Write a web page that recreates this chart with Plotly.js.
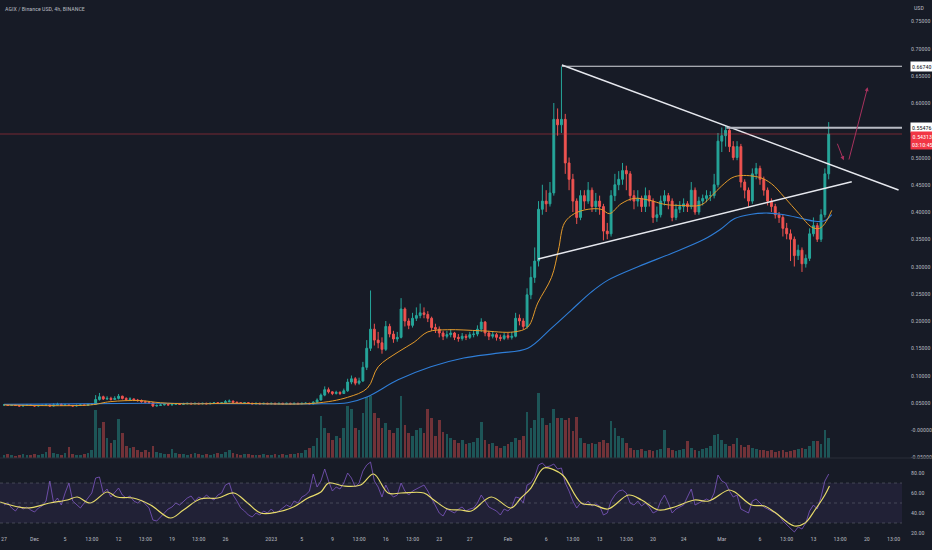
<!DOCTYPE html>
<html><head><meta charset="utf-8">
<script src="https://cdn.plot.ly/plotly-3.0.1.min.js"></script>
<style>html,body{margin:0;padding:0;background:#171b26;}#chart{width:932px;height:550px;}</style>
</head><body><div id="chart"></div>
<script>
// ---- 12h candles, day 0 = 27 Nov 2022 ----
const opens = [
.046,.046,.045,.046,.045,.044,.045,.046,.045,.044,
.045,.045,.046,.044,.046,.047,.045,.046,.045,.044,
.045,.046,.045,.047,.047,.056,.061,.057,.058,.056,
.058,.062,.058,.056,.057,.055,.054,.052,.051,.050,
.044,.045,.046,.047,.046,.047,.048,.047,.048,.049,
.048,.049,.048,.049,.048,.049,.050,.049,.050,.052,
.053,.051,.050,.049,.050,.049,.048,.049,.048,.049,
.048,.049,.048,.049,.048,.049,.048,.049,.048,.049,
.049,.048,.051,.055,.064,.074,.070,.067,.069,.067,
.072,.088,.094,.086,.090,.115,.150,.185,.165,.160,
.148,.190,.176,.167,.170,.222,.200,.192,.205,.210,
.215,.212,.205,.188,.185,.178,.172,.175,.178,.170,
.168,.172,.170,.175,.176,.185,.198,.178,.172,.175,
.170,.168,.173,.170,.172,.205,.200,.190,.248,.280,
.310,.405,.420,.415,.435,.570,.560,.570,.490,.460,
.420,.390,.430,.420,.440,.410,.420,.410,.365,.360,
.430,.450,.460,.476,.470,.430,.420,.425,.410,.430,
.420,.390,.395,.420,.430,.420,.390,.405,.410,.415,
.410,.440,.400,.420,.425,.430,.430,.450,.530,.540,
.550,.520,.500,.520,.455,.440,.420,.470,.480,.460,
.440,.420,.410,.395,.390,.370,.360,.350,.320,.330,
.305,.315,.360,.375,.350,.395,.470];
const highs = [
.047,.047,.047,.047,.046,.046,.047,.047,.046,.046,
.047,.048,.047,.049,.050,.049,.048,.047,.046,.047,
.047,.047,.048,.049,.064,.068,.063,.062,.061,.062,
.066,.063,.060,.060,.058,.057,.056,.054,.053,.051,
.047,.048,.048,.048,.049,.049,.049,.050,.050,.050,
.050,.050,.050,.050,.050,.051,.051,.051,.055,.056,
.054,.052,.051,.051,.051,.050,.050,.050,.050,.050,
.050,.050,.050,.050,.050,.050,.050,.050,.050,.051,
.050,.053,.058,.067,.080,.078,.071,.072,.071,.076,
.094,.100,.097,.096,.125,.165,.256,.195,.180,.170,
.200,.195,.182,.180,.242,.225,.205,.215,.225,.232,
.225,.218,.208,.195,.190,.182,.182,.185,.180,.176,
.178,.176,.180,.182,.192,.205,.200,.182,.180,.178,
.175,.178,.178,.180,.215,.212,.205,.260,.300,.335,
.420,.450,.440,.455,.600,.590,.667,.580,.500,.470,
.425,.440,.440,.455,.445,.435,.430,.415,.380,.440,
.470,.475,.490,.485,.475,.440,.440,.430,.445,.440,
.425,.410,.430,.440,.435,.425,.415,.420,.425,.420,
.455,.445,.428,.432,.440,.438,.470,.545,.555,.558,
.555,.530,.530,.525,.460,.445,.480,.490,.485,.465,
.445,.425,.415,.400,.395,.380,.368,.355,.340,.335,
.322,.370,.390,.380,.405,.480,.565];
const lows = [
.045,.044,.044,.044,.043,.043,.044,.044,.043,.043,
.044,.044,.043,.043,.045,.044,.044,.044,.043,.043,
.044,.044,.044,.046,.046,.054,.055,.055,.054,.055,
.056,.056,.054,.054,.053,.052,.050,.049,.048,.042,
.043,.044,.045,.045,.045,.046,.046,.046,.047,.047,
.047,.047,.047,.047,.047,.048,.048,.048,.049,.051,
.050,.049,.048,.048,.048,.047,.047,.047,.047,.047,
.047,.047,.047,.047,.047,.047,.047,.047,.047,.048,
.047,.047,.050,.054,.062,.067,.064,.065,.064,.066,
.070,.084,.082,.083,.088,.110,.145,.155,.150,.140,
.145,.170,.160,.162,.168,.190,.185,.188,.200,.205,
.205,.198,.182,.178,.170,.165,.168,.170,.165,.162,
.164,.165,.167,.170,.172,.180,.172,.165,.168,.164,
.163,.165,.166,.166,.170,.192,.185,.186,.240,.270,
.300,.395,.400,.410,.430,.540,.545,.470,.440,.400,
.378,.385,.405,.415,.400,.400,.395,.348,.350,.355,
.420,.440,.450,.440,.420,.405,.410,.400,.400,.410,
.380,.382,.390,.412,.405,.383,.385,.398,.400,.400,
.405,.395,.395,.412,.418,.420,.425,.445,.510,.520,
.510,.495,.495,.445,.425,.410,.415,.460,.450,.430,
.412,.400,.388,.380,.355,.350,.310,.300,.312,.290,
.298,.310,.355,.345,.345,.390,.460];
const closes = [
.046,.045,.046,.045,.044,.045,.046,.045,.044,.045,
.045,.046,.044,.046,.047,.045,.046,.045,.044,.045,
.046,.045,.047,.047,.056,.061,.057,.058,.056,.058,
.062,.058,.056,.057,.055,.054,.052,.051,.050,.044,
.045,.046,.047,.046,.047,.048,.047,.048,.049,.048,
.049,.048,.049,.048,.049,.050,.049,.050,.052,.053,
.051,.050,.049,.050,.049,.048,.049,.048,.049,.048,
.049,.048,.049,.048,.049,.048,.049,.048,.049,.049,
.048,.051,.055,.064,.074,.070,.067,.069,.067,.072,
.088,.094,.086,.090,.115,.150,.185,.165,.160,.148,
.190,.176,.167,.170,.222,.200,.192,.205,.210,.215,
.212,.205,.188,.185,.178,.172,.175,.178,.170,.168,
.172,.170,.175,.176,.185,.198,.178,.172,.175,.170,
.168,.173,.170,.172,.205,.200,.190,.248,.280,.310,
.405,.420,.415,.435,.570,.560,.570,.490,.460,.420,
.390,.430,.420,.440,.410,.420,.410,.365,.360,.430,
.450,.460,.476,.470,.430,.420,.425,.410,.430,.420,
.390,.395,.420,.430,.420,.390,.405,.410,.415,.410,
.440,.400,.420,.425,.430,.430,.450,.530,.540,.550,
.520,.500,.520,.455,.440,.420,.470,.480,.460,.440,
.420,.410,.395,.390,.370,.360,.350,.320,.330,.305,
.315,.360,.375,.350,.395,.470,.543];
const volumes = [
3,4,3,2,3,4,3,3,4,3,
4,6,11,5,4,3,5,11,4,3,
3,4,5,8,48,30,36,20,15,18,
39,25,12,10,11,8,6,8,6,12,
6,5,4,4,9,5,4,4,3,4,
5,4,3,4,3,4,5,4,6,8,
5,4,3,4,4,3,3,3,4,3,
3,4,3,4,3,4,4,5,5,8,
10,12,20,42,30,25,18,22,20,30,
52,49,30,28,45,61,62,45,40,30,
35,28,25,30,62,33,25,22,28,30,
25,49,40,22,38,26,24,20,18,15,
18,14,15,16,20,36,18,14,15,12,
10,12,14,16,20,18,22,46,30,38,
65,40,33,35,49,40,40,38,40,27,
41,20,15,14,15,14,16,18,15,37,
30,22,20,15,10,8,8,9,7,8,
7,8,9,28,10,8,7,8,9,17,
10,8,7,9,10,12,23,24,18,14,
12,14,20,13,11,13,10,9,8,8,
7,8,6,7,8,6,7,8,9,10,
9,12,17,17,14,28,20];
const rsi = [
48,50,45,42,47,44,46,43,41,45,
47,52,72,50,55,48,60,70,52,48,
45,50,55,60,75,76,60,64,56,60,
65,58,55,57,52,50,53,49,45,33,
32,36,40,44,46,50,48,52,55,57,
52,56,54,58,55,53,58,60,68,70,
58,52,45,42,38,36,40,38,42,40,
44,40,42,45,48,46,52,50,56,58,
62,79,66,72,84,72,62,66,64,70,
80,75,66,70,82,88,91,72,66,56,
68,60,56,58,70,62,58,62,64,66,
68,62,55,48,40,37,44,42,40,44,
46,42,44,45,50,58,52,46,44,42,
38,44,42,46,56,55,50,68,70,76,
88,90,86,87,89,84,85,70,62,52,
45,50,48,52,47,49,47,38,40,52,
58,62,63,60,50,48,52,47,50,46,
40,42,52,58,50,40,44,46,48,56,
64,48,50,52,54,52,60,78,72,70,
62,56,58,44,42,40,52,54,50,46,
44,42,40,38,32,28,24,21,26,24,
30,42,48,44,56,72,79];
const candleStepDays = 0.5;

// RSI moving average (yellow)
const rsiMaDays = [-0.5,3.0,6.0,8.3,9.6,11.3,13.5,14.8,16.9,19.2,21.8,23.5,25.7,28.0,30.1,31.9,33.6,35.8,37.9,39.8,41.5,42.5,44.5,46.7,48.4,50.3,52.0,55.0,56.3,58.1,59.8,61.2,63.8,66.4,67.7,69.0,70.7,72.6,73.4,75.6,77.3,79.1,81.8,83.5,85.7,87.8,90.4,92.3,94.9,95.7,97.9,99.6,100.9,103.5,104.9,106.2,107.5,108.1];
const rsiMaVals = [51,45,50,53,56,50,61,56,55,48,35,43,54,55,60,50,40,41,46,55,61,70,67,68,79,60,60,60,53,44,43,42,56,45,55,65,85,81,76,50,48,44,58,53,43,46,53,52,63,61,48,47,41,27,30,43,58,67];

// price moving averages
const maFastDays = [0,11.3,13.9,17.8,20.5,24.4,29.7,40.6,45.0,47.6,49.0,51.6,53.7,55.5,58.1,62.5,66.8,68.6,69.9,71.7,72.6,73.4,74.7,76.5,78.2,79.3,80.8,82.5,84.4,86.5,88.7,91.3,92.7,94.0,95.7,98.8,100.5,102.2,104.1,105.8,106.8,107.5,108.4];
const maFastVals = [.046,.046,.052,.054,.050,.048,.049,.049,.060,.077,.116,.143,.161,.180,.184,.182,.180,.189,.233,.280,.330,.380,.397,.405,.405,.397,.415,.425,.422,.414,.412,.413,.430,.448,.465,.464,.452,.427,.397,.372,.370,.379,.403];
const maSlowDays = [0,19.2,40.6,45.0,47.6,51.6,55.9,60.2,64.7,68.6,71.7,74.3,76.9,79.1,83.1,87.4,91.7,93.8,95.7,97.9,100.1,102.2,104.5,106.2,107.5,108.4];
const maSlowVals = [.047,.049,.048,.050,.061,.092,.116,.132,.141,.150,.187,.220,.253,.275,.300,.324,.350,.368,.388,.396,.398,.395,.388,.383,.384,.395];

// drawings
const descLineDays = [73.06,117.15], descLinePrices = [0.6697,0.4404];
const ascLineDays = [69.95,111.02], ascLinePrices = [0.3138,0.4556];
const levelHighDays = [73.06,119], levelHighPrice = 0.6674;
const levelMidDays = [94.6,119], levelMidPrice = 0.55476;
const lastPrice = 0.54313, countdown = '03:10:45';
const arrowDownDays = [109.06,109.97], arrowDownPrices = [0.528,0.495];
const arrowUpDays = [110.6,113.1], arrowUpPrices = [0.4936,0.629];

// axes ticks
const xTickDays = [0,4,8,11.5,15,18.5,22,25.5,29,35,39,43,46.5,50,53.5,57,61,66,71,74.5,78,81.5,85,89,94,99,102.5,106,109.5,113,116.5];
const xTickText = ['27','Dec','5','13:00','12','13:00','19','13:00','26','2023','5','9','13:00','16','13:00','23','27','Feb','6','13:00','13','13:00','20','24','Mar','6','13:00','13','13:00','20','13:00'];
const priceTicks = [0.75,0.70,0.65,0.60,0.50,0.45,0.40,0.35,0.30,0.25,0.20,0.15,0.10,0.05,0,-0.05];
const priceTickText = ['0.75000','0.70000','0.65000','0.60000','0.50000','0.45000','0.40000','0.35000','0.30000','0.25000','0.20000','0.15000','0.10000','0.05000','-0.00000','-0.05000'];
const rsiTicks = [20,40,60,80];
const rsiTickText = ['20.00','40.00','60.00','80.00'];
const rsiLevels = [70,50,30];

const days = closes.map((_, i) => i * candleStepDays);
const UP = '#26a69a', DN = '#ef5350';
const volColors = closes.map((c, i) => c >= opens[i] ? 'rgba(38,166,154,0.42)' : 'rgba(239,83,80,0.42)');
const FONT = 'Liberation Sans Narrow, Roboto Condensed, Liberation Sans, Arial';
const TXT = '#b2b5be';

const traces = [
  {type:'bar', x:days, y:volumes, xaxis:'x', yaxis:'y', marker:{color:volColors, line:{width:0}}, width:0.36, hoverinfo:'skip', showlegend:false},
  {type:'candlestick', x:days, open:opens, high:highs, low:lows, close:closes, xaxis:'x', yaxis:'y3',
    increasing:{line:{color:UP,width:1}, fillcolor:UP}, decreasing:{line:{color:DN,width:1}, fillcolor:DN},
    whiskerwidth:0, hoverinfo:'skip', showlegend:false},
  {type:'scatter', mode:'lines', x:maSlowDays, y:maSlowVals, xaxis:'x', yaxis:'y3', line:{color:'#2f7ed8', width:1.1, shape:'spline', smoothing:1}, hoverinfo:'skip', showlegend:false},
  {type:'scatter', mode:'lines', x:maFastDays, y:maFastVals, xaxis:'x', yaxis:'y3', line:{color:'#e39a2b', width:1, shape:'spline', smoothing:1}, hoverinfo:'skip', showlegend:false},
  {type:'scatter', mode:'lines', x:descLineDays, y:descLinePrices, xaxis:'x', yaxis:'y3', line:{color:'#e6e8ee', width:1.5}, hoverinfo:'skip', showlegend:false},
  {type:'scatter', mode:'lines', x:ascLineDays, y:ascLinePrices, xaxis:'x', yaxis:'y3', line:{color:'#e6e8ee', width:1.5}, hoverinfo:'skip', showlegend:false},
  {type:'scatter', mode:'lines', x:levelHighDays, y:[levelHighPrice, levelHighPrice], xaxis:'x', yaxis:'y3', line:{color:'#d6d8de', width:1.2}, hoverinfo:'skip', showlegend:false},
  {type:'scatter', mode:'lines', x:levelMidDays, y:[levelMidPrice, levelMidPrice], xaxis:'x', yaxis:'y3', line:{color:'#b8bbc4', width:2}, hoverinfo:'skip', showlegend:false},
  {type:'scatter', mode:'lines', x:days, y:rsi, xaxis:'x2', yaxis:'y2', line:{color:'#7e57c2', width:0.8}, hoverinfo:'skip', showlegend:false},
  {type:'scatter', mode:'lines', x:rsiMaDays, y:rsiMaVals, xaxis:'x2', yaxis:'y2', line:{color:'#e8dc6a', width:1.2, shape:'spline', smoothing:1}, hoverinfo:'skip', showlegend:false}
];

const mainDom = [0.1423, 1], rsiDom = [0, 0.1404];
const xr = [-0.525, 117.6];

const shapes = [
  {type:'rect', xref:'paper', yref:'y2', x0:0, x1:1, y0:30, y1:70, fillcolor:'rgba(126,87,194,0.10)', line:{width:0}, layer:'below'},
  {type:'line', xref:'paper', yref:'paper', x0:0, x1:1.04, y0:0.1423, y1:0.1423, line:{color:'#2a2e39', width:1}},
  {type:'line', xref:'paper', yref:'y3', x0:0, x1:1, y0:lastPrice, y1:lastPrice, line:{color:'rgba(242,54,69,0.55)', width:0.8}}
].concat(rsiLevels.map(v => ({type:'line', xref:'paper', yref:'y2', x0:0, x1:1, y0:v, y1:v, line:{color:'rgba(120,123,134,0.55)', width:0.8, dash:'dot'}})));

const annotations = [
  {xref:'paper', yref:'paper', x:0.003, y:1, xanchor:'left', yanchor:'top', yshift:-3, showarrow:false, text:'AGIX / Binance USD, 4h, BINANCE', font:{family:FONT, size:6, color:TXT}},
  {xref:'paper', yref:'paper', x:1, y:1, xanchor:'left', yanchor:'top', xshift:10, yshift:-2, showarrow:false, text:'USD', font:{family:FONT, size:6, color:TXT}},
  {xref:'paper', yref:'y3', x:1, y:levelHighPrice, xanchor:'left', yanchor:'middle', xshift:8, showarrow:false, text:levelHighPrice.toFixed(5), bgcolor:'#ffffff', borderpad:1, font:{family:FONT, size:6, color:'#131722'}},
  {xref:'paper', yref:'y3', x:1, y:levelMidPrice, xanchor:'left', yanchor:'middle', xshift:8, showarrow:false, text:levelMidPrice.toFixed(5), bgcolor:'#ffffff', borderpad:1, font:{family:FONT, size:6, color:'#131722'}},
  {xref:'paper', yref:'y3', x:1, y:lastPrice, xanchor:'left', yanchor:'top', xshift:8, yshift:3, showarrow:false, text:lastPrice.toFixed(5)+'<br>'+countdown, bgcolor:'#f23645', borderpad:1, font:{family:FONT, size:6, color:'#ffffff'}},
  {xref:'x', yref:'y3', axref:'x', ayref:'y3', x:arrowDownDays[1], y:arrowDownPrices[1], ax:arrowDownDays[0], ay:arrowDownPrices[0], showarrow:true, text:'', arrowcolor:'#a8325e', arrowwidth:1, arrowhead:2, arrowsize:0.8},
  {xref:'x', yref:'y3', axref:'x', ayref:'y3', x:arrowUpDays[1], y:arrowUpPrices[1], ax:arrowUpDays[0], ay:arrowUpPrices[0], showarrow:true, text:'', arrowcolor:'#a8325e', arrowwidth:1, arrowhead:2, arrowsize:0.8}
];

const layout = {
  width:932, height:550,
  paper_bgcolor:'#171b26', plot_bgcolor:'#171b26',
  margin:{l:0, r:30, t:0, b:16},
  font:{family:FONT, color:TXT, size:6},
  showlegend:false, bargap:0,
  xaxis:{domain:[0,1], range:xr, anchor:'y', showticklabels:false, showgrid:false, zeroline:false, showline:false, rangeslider:{visible:false}, fixedrange:true},
  xaxis2:{domain:[0,1], range:xr, anchor:'y2', matches:'x', tickmode:'array', tickvals:xTickDays, ticktext:xTickText, showgrid:false, zeroline:false, showline:false, ticks:'', tickfont:{family:FONT, size:6, color:TXT}, rangeslider:{visible:false}},
  yaxis:{domain:mainDom, range:[0,458], visible:false, fixedrange:true},
  yaxis3:{domain:mainDom, overlaying:'y', side:'right', anchor:'x', range:[-0.0514, 0.789], tickmode:'array', tickvals:priceTicks, ticktext:priceTickText, showgrid:false, zeroline:false, showline:false, ticks:'', ticklabelstandoff:8, tickfont:{family:FONT, size:6, color:TXT}},
  yaxis2:{domain:rsiDom, side:'right', anchor:'x2', range:[19, 94], tickmode:'array', tickvals:rsiTicks, ticktext:rsiTickText, showgrid:false, zeroline:false, showline:false, ticks:'', ticklabelstandoff:8, tickfont:{family:FONT, size:6, color:TXT}},
  shapes:shapes, annotations:annotations
};

Plotly.newPlot('chart', traces, layout, {displayModeBar:false, staticPlot:true});
</script>
</body></html>
